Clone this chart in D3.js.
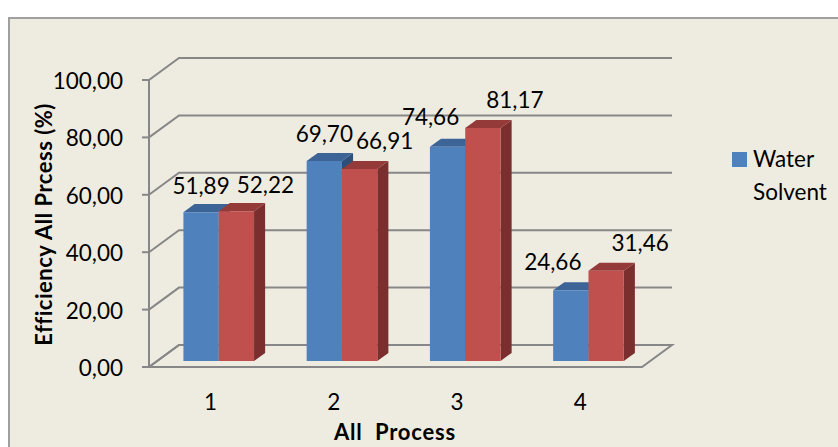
<!DOCTYPE html>
<html>
<head>
<meta charset="utf-8">
<script src="https://cdn.jsdelivr.net/npm/d3@7"></script>
<style>
  html, body { margin: 0; padding: 0; background: #ffffff; }
  svg { display: block; }
  text { font-family: Lato, "Noto Sans", sans-serif; fill: #000; }
</style>
</head>
<body>
<svg id="chart" width="838" height="447"></svg>
<script>
// ---- data ----
const categories = ["1", "2", "3", "4"];
const seriesNames = ["Water", "Solvent"];
const waterValues = [51.89, 69.70, 74.66, 24.66];
const solventValues = [52.22, 66.91, 81.17, 31.46];
const yTickValues = [0, 20, 40, 60, 80, 100];

// small nudges for the value labels (pixels), so neighbours do not collide
const waterLabelDx = [0, 0, -17, -18];
const solventLabelDx = [29, 25, 32, 34];
const waterLabelDy = [2, 1, -1.5, 0];
const solventLabelDy = [2, 0, 0, 0];

const series = [
  { name: seriesNames[0], values: waterValues, dx: waterLabelDx, dy: waterLabelDy,
    front: "#4F81BD", top: "#3C6496", side: "#2E4F78" },
  { name: seriesNames[1], values: solventValues, dx: solventLabelDx, dy: solventLabelDy,
    front: "#C0504D", top: "#943A38", side: "#7A2F2E" }
];

const svg = d3.select("#chart");
const comma = d3.formatLocale({ decimal: ",", thousands: ".", grouping: [3], currency: ["", ""] }).format(".2f");

// chart frame
svg.append("rect")
  .attr("x", 9).attr("y", 18).attr("width", 860).attr("height", 460)
  .attr("fill", "#EEECE1").attr("stroke", "#A0A0A0").attr("stroke-width", 2);

// ---- oblique 3D projection ----
const DX = 30, DY = 22;                 // full depth offset of the back wall
const plotLeft = 149, plotRight = 642;
const y = d3.scaleLinear().domain([0, 100]).range([367, 80]);
const x = d3.scaleBand().domain(categories).range([plotLeft, plotRight])
  .paddingInner(0.427).paddingOuter(0.427 / 2);
const xs = d3.scaleBand().domain(seriesNames).range([0, x.bandwidth()]);
const P = (px, py, z) => [px + z * DX, py - z * DY];
const zFront = 0.27, zBack = 0.64;      // depth occupied by the bars
const gridColor = "#878787";

const grid = svg.append("g").attr("fill", "none").attr("stroke", gridColor).attr("stroke-width", 2);

// floor
const floorPts = [P(plotLeft, y(0), 0), P(plotRight, y(0), 0), P(plotRight, y(0), 1), P(plotLeft, y(0), 1)];
grid.append("path")
  .attr("d", "M" + floorPts.join("L") + "Z")
  .attr("fill", "#EEECE1").attr("stroke-linejoin", "miter");

// back-wall gridlines and side-wall diagonals
yTickValues.forEach(v => {
  const a = P(plotLeft, y(v), 0), b = P(plotLeft, y(v), 1), c = P(plotRight, y(v), 1);
  grid.append("path").attr("d", `M${a}L${b}L${c}`);
});

// value axis line + ticks
grid.append("line").attr("x1", plotLeft).attr("x2", plotLeft).attr("y1", y(100)).attr("y2", y(0));
yTickValues.forEach(v => {
  grid.append("line").attr("x1", plotLeft - 7).attr("x2", plotLeft).attr("y1", y(v)).attr("y2", y(v));
});

// tick labels
svg.append("g").selectAll("text").data(yTickValues).join("text")
  .attr("x", 123).attr("y", d => y(d) + 9)
  .attr("text-anchor", "end").attr("font-size", 22.5)
  .text(d => comma(d));

// category labels
svg.append("g").selectAll("text").data(categories).join("text")
  .attr("x", d => x(d) + x.bandwidth() / 2).attr("y", 410)
  .attr("text-anchor", "middle").attr("font-size", 22.5)
  .text(d => d);

// ---- bars ----
const barsG = svg.append("g");
const labelsG = svg.append("g");
categories.forEach((cat, i) => {
  series.forEach(s => {
    const v = s.values[i];
    const x0 = x(cat) + xs(s.name), x1 = x0 + xs.bandwidth();
    const yt = y(v), yb = y(0);
    const fTL = P(x0, yt, zFront), fTR = P(x1, yt, zFront), fBR = P(x1, yb, zFront), fBL = P(x0, yb, zFront);
    const bTL = P(x0, yt, zBack), bTR = P(x1, yt, zBack), bBR = P(x1, yb, zBack);
    barsG.append("path").attr("d", `M${fTR}L${bTR}L${bBR}L${fBR}Z`).attr("fill", s.side);
    barsG.append("path").attr("d", `M${fTL}L${bTL}L${bTR}L${fTR}Z`).attr("fill", s.top);
    barsG.append("path").attr("d", `M${fTL}L${fTR}L${fBR}L${fBL}Z`).attr("fill", s.front);

    labelsG.append("text")
      .attr("x", (fTL[0] + fTR[0]) / 2 + s.dx[i])
      .attr("y", bTL[1] - 12 + s.dy[i])
      .attr("text-anchor", "middle").attr("font-size", 22.5)
      .text(comma(v));
  });
});

// ---- axis titles ----
svg.append("text")
  .attr("transform", "translate(52,224.5) rotate(-90)")
  .attr("text-anchor", "middle").attr("font-size", 22).attr("font-weight", "bold")
  .attr("letter-spacing", 0.5)
  .text("Efficiency All Prcess (%)");

svg.append("text")
  .attr("x", 395).attr("y", 440)
  .attr("text-anchor", "middle").attr("font-size", 22).attr("font-weight", "bold")
  .attr("letter-spacing", 0.8)
  .style("white-space", "pre")
  .text("All  Process");

// ---- legend ----
const legend = svg.append("g");
legend.append("rect").attr("x", 732).attr("y", 152).attr("width", 15).attr("height", 15).attr("fill", series[0].front);
legend.append("text").attr("x", 753).attr("y", 167).attr("font-size", 22.5).text(seriesNames[0]);
legend.append("text").attr("x", 753).attr("y", 200).attr("font-size", 22.5).text(seriesNames[1]);
</script>
</body>
</html>
